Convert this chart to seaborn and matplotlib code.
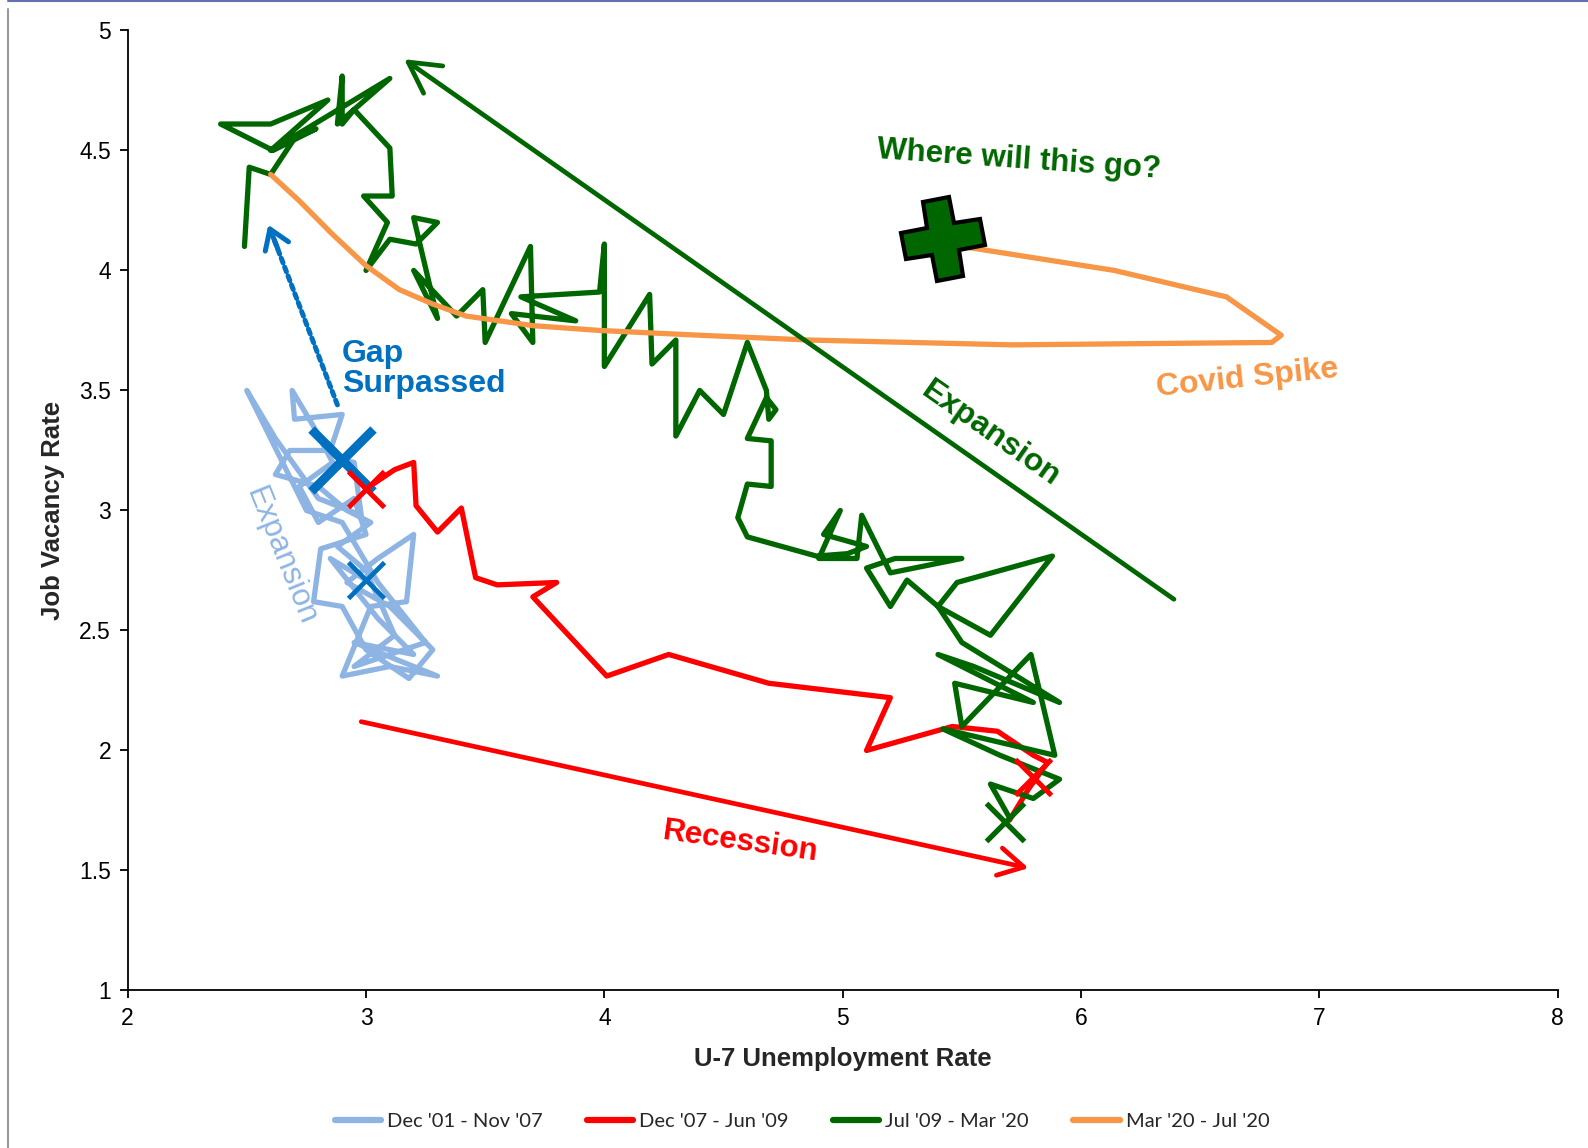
import numpy as np
import pandas as pd
import matplotlib
matplotlib.use("Agg")
import matplotlib.pyplot as plt
import seaborn as sns
from matplotlib.markers import MarkerStyle
from matplotlib.transforms import Affine2D
from matplotlib.lines import Line2D

# ---------------- data ----------------
periods = ["Dec '01 - Nov '07", "Dec '07 - Jun '09", "Jul '09 - Mar '20", "Mar '20 - Jul '20"]
colors = ["#8EB4E3", "#FF0000", "#006600", "#F79646"]

u7_0107 = [3.00, 2.85, 3.05, 3.20, 2.95, 3.30, 3.10, 2.90, 3.02, 3.17, 3.20, 3.05, 2.92, 3.10,
           3.28, 3.18, 3.00, 2.90, 2.78, 2.81, 3.00, 2.95, 2.80, 2.72, 2.86, 2.78, 2.69, 2.70,
           2.90, 2.85, 2.68, 2.62, 2.80, 2.92, 3.02, 2.88, 3.00, 3.12, 2.95, 3.25, 3.05, 2.90,
           2.75, 2.50, 2.62, 2.80, 2.98, 2.95, 2.90]
jv_0107 = [2.71, 2.80, 2.55, 2.40, 2.45, 2.31, 2.35, 2.31, 2.60, 2.62, 2.90, 2.80, 2.70, 2.60,
           2.42, 2.30, 2.42, 2.60, 2.62, 2.84, 2.90, 3.05, 2.95, 3.10, 3.20, 3.35, 3.50, 3.38,
           3.40, 3.25, 3.25, 3.15, 3.10, 3.00, 2.95, 2.85, 2.75, 2.48, 2.35, 2.45, 2.70, 2.95,
           3.00, 3.50, 3.30, 3.05, 2.98, 3.20, 3.21]

u7_0709 = [3.00, 3.12, 3.20, 3.21, 3.30, 3.40, 3.46, 3.55, 3.80, 3.70, 4.01, 4.27, 4.69,
           5.20, 5.10, 5.46, 5.65, 5.80, 5.86, 5.78, 5.70]
jv_0709 = [3.09, 3.17, 3.20, 3.02, 2.91, 3.01, 2.72, 2.69, 2.70, 2.64, 2.31, 2.40, 2.28,
           2.22, 2.00, 2.10, 2.08, 1.98, 1.95, 1.84, 1.71]

u7_0920 = [5.70, 5.62, 5.80, 5.91, 5.66, 5.42, 5.89, 5.79, 5.50, 5.47, 5.80, 5.40, 5.55, 5.91,
           5.50, 5.40, 5.48, 5.88, 5.62, 5.40, 5.27, 5.20, 5.10, 5.22, 5.50, 5.20, 5.08, 5.06,
           4.90, 4.99, 4.92, 5.10, 5.02, 4.89, 4.60, 4.56, 4.60, 4.70, 4.70, 4.60, 4.68, 4.72,
           4.69, 4.68, 4.60, 4.50, 4.40, 4.30, 4.30, 4.20, 4.19, 4.00, 4.00, 3.98, 3.65, 3.88,
           3.61, 3.70, 3.69, 3.59, 3.50, 3.49, 3.38, 3.20, 3.30, 3.20, 3.30, 3.21, 3.10, 3.00,
           3.09, 2.99, 3.11, 3.10, 2.95, 2.90, 2.90, 2.88, 3.10, 2.60, 2.84, 2.60, 2.39, 2.61,
           2.79, 2.70, 2.60, 2.51, 2.49]
jv_0920 = [1.72, 1.86, 1.80, 1.88, 1.98, 2.09, 1.98, 2.40, 2.10, 2.28, 2.20, 2.40, 2.35, 2.20,
           2.45, 2.60, 2.70, 2.81, 2.48, 2.60, 2.71, 2.60, 2.76, 2.80, 2.80, 2.74, 2.98, 2.80,
           2.80, 3.00, 2.90, 2.85, 2.82, 2.81, 2.89, 2.97, 3.11, 3.10, 3.29, 3.30, 3.47, 3.42,
           3.38, 3.50, 3.70, 3.40, 3.50, 3.31, 3.71, 3.61, 3.90, 3.60, 4.11, 3.91, 3.89, 3.79,
           3.82, 3.70, 4.10, 3.89, 3.70, 3.92, 3.81, 4.00, 3.80, 4.22, 4.20, 4.11, 4.13, 4.00,
           4.20, 4.31, 4.31, 4.51, 4.67, 4.61, 4.81, 4.61, 4.80, 4.50, 4.71, 4.61, 4.61, 4.50,
           4.59, 4.55, 4.40, 4.43, 4.10]

u7_20 = [2.60, 2.72, 2.86, 3.00, 3.14, 3.28, 3.42, 3.70, 3.98, 4.40, 4.86, 5.71, 6.80, 6.84,
         6.61, 6.14, 5.50]
jv_20 = [4.40, 4.29, 4.15, 4.02, 3.92, 3.86, 3.81, 3.77, 3.75, 3.73, 3.71, 3.69, 3.70, 3.73,
         3.89, 4.00, 4.10]

# highlighted points
big_blue_x, big_blue_y = [2.90], [3.21]
small_blue_x, small_blue_y = [3.00], [2.71]
red_x_u7, red_x_jv = [3.00, 5.80], [3.09, 1.89]
green_x_u7, green_x_jv = [5.68], [1.70]
plus_u7, plus_jv = [5.42], [4.13]

x_ticks = [2, 3, 4, 5, 6, 7, 8]
y_ticks = [1, 1.5, 2, 2.5, 3, 3.5, 4, 4.5, 5]
y_tick_labels = ["1", "1.5", "2", "2.5", "3", "3.5", "4", "4.5", "5"]

# ---------------- figure ----------------
sns.set_theme(style="white")
plt.rcParams['font.family'] = ['Liberation Sans', 'DejaVu Sans']

fig = plt.figure(figsize=(15.88, 11.48), dpi=100)
ax = fig.add_axes([0.0804, 0.1372, 0.9005, 0.8363])

frames = []
for p, u, j in zip(periods, [u7_0107, u7_0709, u7_0920, u7_20], [jv_0107, jv_0709, jv_0920, jv_20]):
    frames.append(pd.DataFrame({"u7": u, "jv": j, "period": p, "step": np.arange(len(u))}))
df = pd.concat(frames, ignore_index=True)

sns.lineplot(data=df, x="u7", y="jv", hue="period", hue_order=periods,
             palette=dict(zip(periods, colors)), sort=False, estimator=None,
             units="period", lw=3.8, legend=False, ax=ax,
             solid_joinstyle="round", solid_capstyle="round")

# markers
ax.plot(big_blue_x, big_blue_y, ls="none", marker="x", ms=44, mew=6.5, color="#0070C0", zorder=5)
ax.plot(small_blue_x, small_blue_y, ls="none", marker="x", ms=26, mew=3.4, color="#0070C0", zorder=5)
ax.plot(red_x_u7, red_x_jv, ls="none", marker="x", ms=26, mew=3.6, color="#FF0000", zorder=6)
ax.plot(green_x_u7, green_x_jv, ls="none", marker="x", ms=27, mew=3.8, color="#006600", zorder=6)
plus_marker = MarkerStyle("P", transform=Affine2D().rotate_deg(10))
ax.plot(plus_u7, plus_jv, ls="none", marker=plus_marker, ms=58, mew=3,
        markerfacecolor="#006600", markeredgecolor="black", zorder=7)

# arrows
ax.annotate("", xy=(3.16, 4.88), xytext=(6.39, 2.63),
            arrowprops=dict(arrowstyle="->,head_length=0.55,head_width=0.3", color="#006600",
                            lw=3.4, mutation_scale=40, shrinkA=0, shrinkB=0))
ax.annotate("", xy=(5.78, 1.51), xytext=(2.98, 2.12),
            arrowprops=dict(arrowstyle="->,head_length=0.45,head_width=0.25", color="#FF0000",
                            lw=3.4, mutation_scale=40, shrinkA=0, shrinkB=0))
ax.annotate("", xy=(2.61, 4.14), xytext=(2.88, 3.44),
            arrowprops=dict(arrowstyle="-", color="#0070C0", lw=3.6, linestyle=(0, (1, 0.9)),
                            shrinkA=0, shrinkB=0))
ax.annotate("", xy=(2.59, 4.19), xytext=(2.63, 4.09),
            arrowprops=dict(arrowstyle="->,head_length=0.45,head_width=0.3", color="#0070C0",
                            lw=3.6, mutation_scale=30, shrinkA=0, shrinkB=0))

# text annotations
ax.text(5.74, 4.46, "Where will this go?", color="#006600", fontsize=22.5, fontweight="bold",
        rotation=-4, ha="center", va="center")
ax.text(6.70, 3.55, "Covid Spike", color="#F79646", fontsize=23, fontweight="bold",
        rotation=6, ha="center", va="center")
ax.text(5.62, 3.32, "Expansion", color="#006600", fontsize=23, fontweight="bold",
        rotation=-35, ha="center", va="center", rotation_mode="anchor")
ax.text(2.90, 3.59, "Gap\nSurpassed", color="#0070C0", fontsize=23, fontweight="bold",
        ha="left", va="center", linespacing=1.0)
ax.text(2.64, 2.81, "Expansion", color="#8EB4E3", fontsize=22.5,
        rotation=-68, ha="center", va="center", rotation_mode="anchor")
ax.text(4.57, 1.62, "Recession", color="#FF0000", fontsize=22.5, fontweight="bold",
        rotation=-8, ha="center", va="center", rotation_mode="anchor")

# axes styling
ax.set_xlim(2, 8)
ax.set_ylim(1, 5)
ax.set_xticks(x_ticks)
ax.set_xticklabels([str(t) for t in x_ticks])
ax.set_yticks(y_ticks)
ax.set_yticklabels(y_tick_labels)
for s in ["top", "right"]:
    ax.spines[s].set_visible(False)
for s in ["left", "bottom"]:
    ax.spines[s].set_color("black")
    ax.spines[s].set_linewidth(1.3)
ax.tick_params(axis="both", direction="out", length=6, width=1.3, color="black",
               labelsize=16.5, labelcolor="black", pad=6)
ax.tick_params(axis="x", bottom=True)
ax.tick_params(axis="y", left=True)
ax.set_xlabel("U-7 Unemployment Rate", fontsize=18.5, fontweight="bold", labelpad=12)
ax.set_ylabel("Job Vacancy Rate", fontsize=18.5, fontweight="bold", labelpad=10)
ax.grid(False)

# legend
handles = [Line2D([0], [0], color=c, lw=4.5, solid_capstyle="round") for c in colors]
fig.legend(handles, periods, loc="center", bbox_to_anchor=(0.505, 0.023), ncol=4,
           frameon=False, prop={"family": "Lato", "size": 14.5}, handlelength=2.3,
           columnspacing=2.2, handletextpad=0.3)

# outer frame lines
fig.add_artist(Line2D([0.005, 0.005], [0.0, 0.992], transform=fig.transFigure,
                      color="#999999", lw=1.5))
fig.add_artist(Line2D([0.005, 1.0], [0.999, 0.999], transform=fig.transFigure,
                      color="#6670B0", lw=1.5))

fig.savefig("out.png", dpi=100)
